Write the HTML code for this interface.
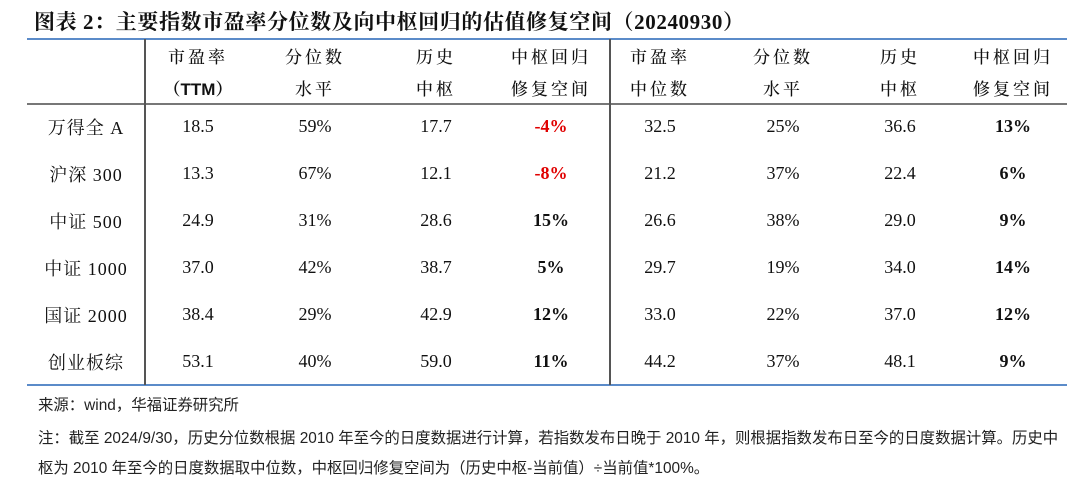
<!DOCTYPE html>
<html><head><meta charset="utf-8"><style>
body{margin:0;width:1080px;height:479px;background:#fff;position:relative;overflow:hidden;font-family:"Liberation Serif","Noto Serif CJK SC",serif;color:#111}
.a{position:absolute;white-space:nowrap}
.t{left:34px;top:6px;font-size:21px;font-weight:bold;letter-spacing:0.6px}
.h{font-family:"Liberation Sans","Noto Serif CJK SC",serif;font-size:17px;letter-spacing:3px;text-align:center;width:120px;font-weight:500}
.c{font-size:18px;text-align:center;width:120px}
.b{font-weight:bold}.r{color:#e00000}
.l{font-size:18px;text-align:center;width:120px;letter-spacing:1px}
.n{font-family:"Liberation Sans","Noto Sans CJK SC",sans-serif;font-size:15.4px;left:38px;color:#222}
</style></head><body>
<div class="a t">图表 2：主要指数市盈率分位数及向中枢回归的估值修复空间（20240930）</div>
<div class="a" style="left:27px;top:38px;width:1040px;height:2px;background:#5b8bc9"></div>
<div class="a" style="left:27px;top:103px;width:1040px;height:2px;background:#777"></div>
<div class="a" style="left:27px;top:384px;width:1040px;height:2px;background:#5b8bc9"></div>
<div class="a" style="left:144px;top:39px;width:2px;height:346px;background:#555"></div>
<div class="a" style="left:609px;top:39px;width:2px;height:346px;background:#555"></div>
<div id="g"></div>
<div class="a n" style="top:393px">来源：wind，华福证券研究所</div>
<div class="a n" style="top:426px">注：截至 2024/9/30，历史分位数根据 2010 年至今的日度数据进行计算，若指数发布日晚于 2010 年，则根据指数发布日至今的日度数据计算。历史中</div>
<div class="a n" style="top:456px">枢为 2010 年至今的日度数据取中位数，中枢回归修复空间为（历史中枢-当前值）÷当前值*100%。</div>
<script>
var cx=[198,315,436,551,660,783,900,1013];
var h1=["市盈率","分位数","历史","中枢回归","市盈率","分位数","历史","中枢回归"];
var h2=["（TTM）","水平","中枢","修复空间","中位数","水平","中枢","修复空间"];
var rows=[["万得全 A","18.5","59%","17.7","-4%","32.5","25%","36.6","13%"],
["沪深 300","13.3","67%","12.1","-8%","21.2","37%","22.4","6%"],
["中证 500","24.9","31%","28.6","15%","26.6","38%","29.0","9%"],
["中证 1000","37.0","42%","38.7","5%","29.7","19%","34.0","14%"],
["国证 2000","38.4","29%","42.9","12%","33.0","22%","37.0","12%"],
["创业板综","53.1","40%","59.0","11%","44.2","37%","48.1","9%"]];
var s="";
for(var i=0;i<8;i++){
s+='<div class="a h" style="left:'+(cx[i]-60)+'px;top:43px">'+h1[i]+'</div>';
s+='<div class="a h'+(i==0?' b':'')+'" style="left:'+(cx[i]-60)+'px;top:75px;letter-spacing:'+(i==0?'0':'3px')+'">'+h2[i]+'</div>';}
for(var r=0;r<6;r++){var y=116+r*47;
s+='<div class="a l" style="left:26px;top:'+(y-2)+'px">'+rows[r][0]+'</div>';
for(var i=0;i<8;i++){var v=rows[r][i+1];var cl="c";
if(i==3||i==7)cl+=" b";if(v[0]=="-")cl+=" r";
s+='<div class="a '+cl+'" style="left:'+(cx[i]-60)+'px;top:'+y+'px">'+v+'</div>';}}
document.getElementById("g").innerHTML=s;
</script>
</body></html>
